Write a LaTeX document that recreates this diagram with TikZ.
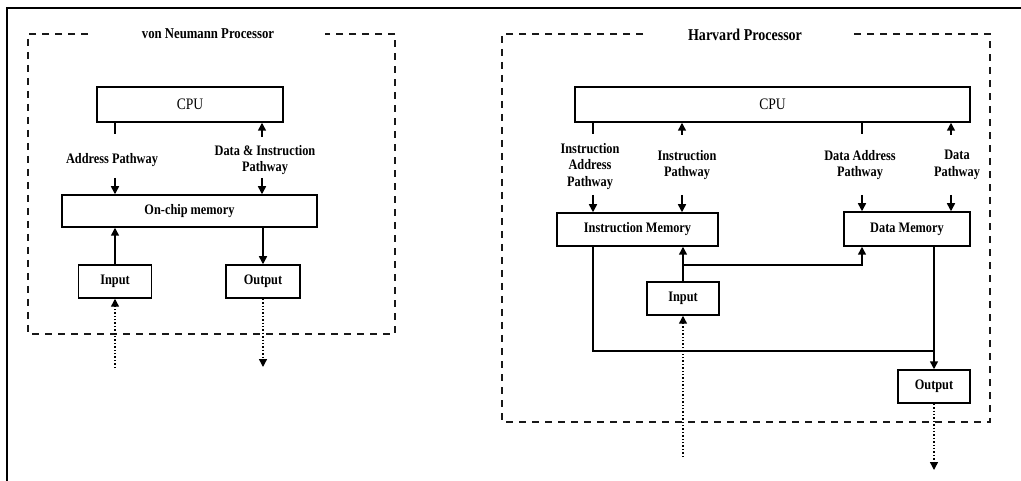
\documentclass[tikz,border=0pt]{standalone}
\usepackage{fontspec}
\setmainfont[FakeStretch=0.85]{Liberation Serif}
\usetikzlibrary{arrows.meta}
\begin{document}
\begin{tikzpicture}[x=1pt,y=-1pt,
  box/.style={draw,line width=1.5pt,inner sep=0pt,font=\bfseries\fontsize{14.5}{16.5}\selectfont},
  lbl/.style={inner sep=0pt,align=center,font=\bfseries\fontsize{14.5}{16.5}\selectfont},
  cpubox/.style={box,font=\fontsize{16}{18}\selectfont},
  ttl/.style={inner sep=0pt,font=\bfseries\fontsize{#1}{18}\selectfont},
  wire/.style={line width=1.5pt},
  arr/.style={line width=1.5pt,-{Triangle[length=8pt,width=8pt]}},
  dotarr/.style={line width=1.4pt,dash pattern=on 1.4pt off 2pt,-{Triangle[length=8pt,width=8pt]}},
  region/.style={line width=1.4pt,dash pattern=on 7pt off 6pt,gray!20!black}]
\useasboundingbox (0,0) rectangle (1021,481);
% page frame
\draw[line width=2.5pt] (7,481) -- (7,8) -- (1021,8);

% ---------- von Neumann ----------
\draw[region] (88,34) -- (28,34) -- (28,334) -- (395,334) -- (395,34) -- (325,34);
\node[ttl=15] (vntitle) at (208,34) {von Neumann Processor};
\node[cpubox,minimum width=186pt,minimum height=35pt] (vcpu) at (190,104.5) {CPU};
\node[box,minimum width=255pt,minimum height=32pt] (vmem) at (189.5,211) {On-chip memory};
\node[box,minimum width=73pt,minimum height=33pt] (vin) at (115,281.5) {Input};
\node[box,minimum width=74pt,minimum height=33pt] (vout) at (263,281.5) {Output};
\node[lbl] (vaddr) at (112,160) {Address Pathway};
\node[lbl] (vdata) at (265,160) {Data \& Instruction\\Pathway};

\coordinate (va1) at (115,134);
\coordinate (va2) at (115,178);
\coordinate (vd1) at (262,137);
\coordinate (vd2) at (262,178);
\coordinate (vinsrc) at (115,368);
\coordinate (voutdst) at (263,367);

\draw[wire] (vcpu.south -| va1) -- (va1);
\draw[arr] (va2) -- (vmem.north -| va2);
\draw[arr] (vd1) -- (vcpu.south -| vd1);
\draw[arr] (vd2) -- (vmem.north -| vd2);
\draw[arr] (vin.north) -- (vmem.south -| vin.north);
\draw[arr] (vmem.south -| vout.north) -- (vout.north);
\draw[dotarr] (vinsrc) -- (vin.south);
\draw[dotarr] (vout.south) -- (voutdst);

% ---------- Harvard ----------
\draw[region] (643,34) -- (502,34) -- (502,422) -- (990,422) -- (990,34) -- (850,34);
\node[ttl=16.5] (hvtitle) at (745,35) {Harvard Processor};
\node[cpubox,minimum width=395pt,minimum height=35pt] (hcpu) at (772.5,104.5) {CPU};
\node[box,minimum width=161pt,minimum height=33pt] (imem) at (637.5,229.5) {Instruction Memory};
\node[box,minimum width=126pt,minimum height=34pt] (dmem) at (907,229) {Data Memory};
\node[box,minimum width=72pt,minimum height=33pt] (hin) at (683,298.5) {Input};
\node[box,minimum width=72pt,minimum height=33pt] (hout) at (934,386.5) {Output};
\node[lbl] (hia) at (590,166.5) {Instruction\\Address\\Pathway};
\node[lbl] (hip) at (687,165) {Instruction\\Pathway};
\node[lbl] (hda) at (860,165) {Data Address\\Pathway};
\node[lbl] (hdp) at (957,165) {Data\\Pathway};

\coordinate (ia1) at (593,134);
\coordinate (ia2) at (593,195);
\coordinate (ip1) at (682,135);
\coordinate (ip2) at (682,195);
\coordinate (da1) at (862,134);
\coordinate (da2) at (862,195);
\coordinate (dp1) at (951,135);
\coordinate (dp2) at (951,195);
\coordinate (hbr) at (683,265);
\coordinate (dtap) at (862,265);
\coordinate (idrop) at (593,351);
\coordinate (hjoin) at (934,351);
\coordinate (hinsrc) at (683,457);
\coordinate (houtdst) at (934,470);

\draw[wire] (hcpu.south -| ia1) -- (ia1);
\draw[arr] (ia2) -- (imem.north -| ia2);
\draw[arr] (ip1) -- (hcpu.south -| ip1);
\draw[arr] (ip2) -- (imem.north -| ip2);
\draw[wire] (hcpu.south -| da1) -- (da1);
\draw[arr] (da2) -- (dmem.north -| da2);
\draw[arr] (dp1) -- (hcpu.south -| dp1);
\draw[arr] (dp2) -- (dmem.north -| dp2);

\draw[arr] (hin.north) -- (imem.south -| hin.north);
\draw[arr] (hbr) -- (dtap) -- (dmem.south -| dtap);
\draw[wire] (imem.south -| idrop) -- (idrop) -- (hjoin);
\draw[arr] (dmem.south -| hjoin) -- (hout.north);
\draw[dotarr] (hinsrc) -- (hin.south);
\draw[dotarr] (hout.south) -- (houtdst);
\end{tikzpicture}
\end{document}
